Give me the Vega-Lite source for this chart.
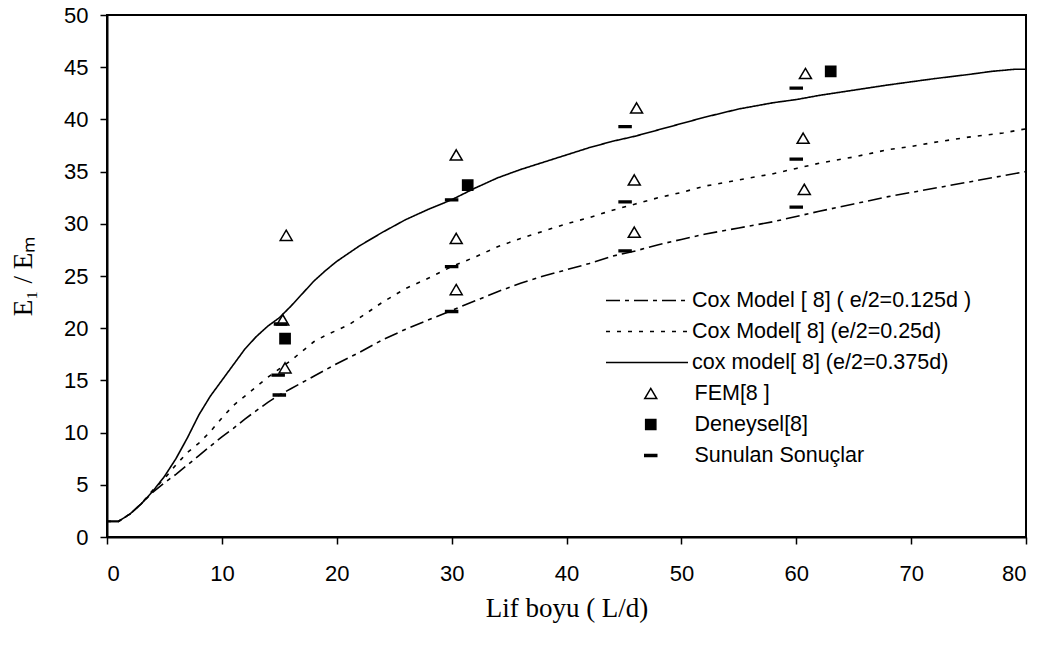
{
  "$schema": "https://vega.github.io/schema/vega-lite/v6.json",
  "width": 919,
  "height": 522,
  "autosize": {"type": "none"},
  "padding": {"left": 107, "top": 15, "right": 20, "bottom": 109},
  "background": "white",
  "config": {
    "view": {"stroke": "black", "strokeWidth": 2},
    "axis": {
      "grid": false,
      "domainColor": "black",
      "domainWidth": 2,
      "tickColor": "black",
      "tickWidth": 1.5,
      "tickSize": 7,
      "labelColor": "black",
      "labelFont": "Liberation Sans",
      "labelFontSize": 22,
      "titleColor": "black",
      "titleFont": "Liberation Serif",
      "titleFontWeight": "normal",
      "titleFontSize": 27
    },
    "legend": {
      "labelFont": "Liberation Sans",
      "labelFontSize": 21.5,
      "labelColor": "black",
      "labelLimit": 0,
      "padding": 0,
      "rowPadding": 0,
      "clipHeight": 31
    }
  },
  "datasets": {
    "curves": [
      {"x": 0, "y": 1.5, "s": "Cox Model [ 8] ( e/2=0.125d )"},
      {"x": 1, "y": 1.5, "s": "Cox Model [ 8] ( e/2=0.125d )"},
      {"x": 2, "y": 2.2, "s": "Cox Model [ 8] ( e/2=0.125d )"},
      {"x": 3, "y": 3.2, "s": "Cox Model [ 8] ( e/2=0.125d )"},
      {"x": 4, "y": 4.3, "s": "Cox Model [ 8] ( e/2=0.125d )"},
      {"x": 5, "y": 5.2, "s": "Cox Model [ 8] ( e/2=0.125d )"},
      {"x": 6, "y": 6.0, "s": "Cox Model [ 8] ( e/2=0.125d )"},
      {"x": 7, "y": 6.9, "s": "Cox Model [ 8] ( e/2=0.125d )"},
      {"x": 8, "y": 7.8, "s": "Cox Model [ 8] ( e/2=0.125d )"},
      {"x": 9, "y": 8.7, "s": "Cox Model [ 8] ( e/2=0.125d )"},
      {"x": 10, "y": 9.6, "s": "Cox Model [ 8] ( e/2=0.125d )"},
      {"x": 11, "y": 10.4, "s": "Cox Model [ 8] ( e/2=0.125d )"},
      {"x": 12, "y": 11.3, "s": "Cox Model [ 8] ( e/2=0.125d )"},
      {"x": 13, "y": 12.1, "s": "Cox Model [ 8] ( e/2=0.125d )"},
      {"x": 14, "y": 12.9, "s": "Cox Model [ 8] ( e/2=0.125d )"},
      {"x": 15, "y": 13.6, "s": "Cox Model [ 8] ( e/2=0.125d )"},
      {"x": 16, "y": 14.2, "s": "Cox Model [ 8] ( e/2=0.125d )"},
      {"x": 17, "y": 14.8, "s": "Cox Model [ 8] ( e/2=0.125d )"},
      {"x": 18, "y": 15.4, "s": "Cox Model [ 8] ( e/2=0.125d )"},
      {"x": 19, "y": 16.0, "s": "Cox Model [ 8] ( e/2=0.125d )"},
      {"x": 20, "y": 16.6, "s": "Cox Model [ 8] ( e/2=0.125d )"},
      {"x": 22, "y": 17.7, "s": "Cox Model [ 8] ( e/2=0.125d )"},
      {"x": 24, "y": 18.9, "s": "Cox Model [ 8] ( e/2=0.125d )"},
      {"x": 26, "y": 19.9, "s": "Cox Model [ 8] ( e/2=0.125d )"},
      {"x": 28, "y": 20.8, "s": "Cox Model [ 8] ( e/2=0.125d )"},
      {"x": 30, "y": 21.7, "s": "Cox Model [ 8] ( e/2=0.125d )"},
      {"x": 32, "y": 22.6, "s": "Cox Model [ 8] ( e/2=0.125d )"},
      {"x": 34, "y": 23.5, "s": "Cox Model [ 8] ( e/2=0.125d )"},
      {"x": 36, "y": 24.3, "s": "Cox Model [ 8] ( e/2=0.125d )"},
      {"x": 38, "y": 25.0, "s": "Cox Model [ 8] ( e/2=0.125d )"},
      {"x": 40, "y": 25.6, "s": "Cox Model [ 8] ( e/2=0.125d )"},
      {"x": 42, "y": 26.2, "s": "Cox Model [ 8] ( e/2=0.125d )"},
      {"x": 44, "y": 26.9, "s": "Cox Model [ 8] ( e/2=0.125d )"},
      {"x": 46, "y": 27.4, "s": "Cox Model [ 8] ( e/2=0.125d )"},
      {"x": 48, "y": 28.0, "s": "Cox Model [ 8] ( e/2=0.125d )"},
      {"x": 50, "y": 28.5, "s": "Cox Model [ 8] ( e/2=0.125d )"},
      {"x": 52, "y": 29.0, "s": "Cox Model [ 8] ( e/2=0.125d )"},
      {"x": 55, "y": 29.6, "s": "Cox Model [ 8] ( e/2=0.125d )"},
      {"x": 58, "y": 30.2, "s": "Cox Model [ 8] ( e/2=0.125d )"},
      {"x": 60, "y": 30.7, "s": "Cox Model [ 8] ( e/2=0.125d )"},
      {"x": 62, "y": 31.2, "s": "Cox Model [ 8] ( e/2=0.125d )"},
      {"x": 65, "y": 31.9, "s": "Cox Model [ 8] ( e/2=0.125d )"},
      {"x": 68, "y": 32.6, "s": "Cox Model [ 8] ( e/2=0.125d )"},
      {"x": 70, "y": 33.0, "s": "Cox Model [ 8] ( e/2=0.125d )"},
      {"x": 72, "y": 33.4, "s": "Cox Model [ 8] ( e/2=0.125d )"},
      {"x": 75, "y": 34.0, "s": "Cox Model [ 8] ( e/2=0.125d )"},
      {"x": 78, "y": 34.6, "s": "Cox Model [ 8] ( e/2=0.125d )"},
      {"x": 80, "y": 35.0, "s": "Cox Model [ 8] ( e/2=0.125d )"},
      {"x": 0, "y": 1.5, "s": "Cox Model[ 8] (e/2=0.25d)"},
      {"x": 1, "y": 1.5, "s": "Cox Model[ 8] (e/2=0.25d)"},
      {"x": 2, "y": 2.2, "s": "Cox Model[ 8] (e/2=0.25d)"},
      {"x": 3, "y": 3.2, "s": "Cox Model[ 8] (e/2=0.25d)"},
      {"x": 4, "y": 4.5, "s": "Cox Model[ 8] (e/2=0.25d)"},
      {"x": 5, "y": 5.6, "s": "Cox Model[ 8] (e/2=0.25d)"},
      {"x": 6, "y": 6.9, "s": "Cox Model[ 8] (e/2=0.25d)"},
      {"x": 7, "y": 8.1, "s": "Cox Model[ 8] (e/2=0.25d)"},
      {"x": 8, "y": 9.0, "s": "Cox Model[ 8] (e/2=0.25d)"},
      {"x": 9, "y": 10.1, "s": "Cox Model[ 8] (e/2=0.25d)"},
      {"x": 10, "y": 11.4, "s": "Cox Model[ 8] (e/2=0.25d)"},
      {"x": 11, "y": 12.6, "s": "Cox Model[ 8] (e/2=0.25d)"},
      {"x": 12, "y": 13.5, "s": "Cox Model[ 8] (e/2=0.25d)"},
      {"x": 13, "y": 14.4, "s": "Cox Model[ 8] (e/2=0.25d)"},
      {"x": 14, "y": 15.3, "s": "Cox Model[ 8] (e/2=0.25d)"},
      {"x": 15, "y": 16.1, "s": "Cox Model[ 8] (e/2=0.25d)"},
      {"x": 16, "y": 16.9, "s": "Cox Model[ 8] (e/2=0.25d)"},
      {"x": 17, "y": 17.8, "s": "Cox Model[ 8] (e/2=0.25d)"},
      {"x": 18, "y": 18.7, "s": "Cox Model[ 8] (e/2=0.25d)"},
      {"x": 19, "y": 19.3, "s": "Cox Model[ 8] (e/2=0.25d)"},
      {"x": 20, "y": 19.8, "s": "Cox Model[ 8] (e/2=0.25d)"},
      {"x": 21, "y": 20.3, "s": "Cox Model[ 8] (e/2=0.25d)"},
      {"x": 22, "y": 21.0, "s": "Cox Model[ 8] (e/2=0.25d)"},
      {"x": 24, "y": 22.5, "s": "Cox Model[ 8] (e/2=0.25d)"},
      {"x": 26, "y": 23.8, "s": "Cox Model[ 8] (e/2=0.25d)"},
      {"x": 28, "y": 24.8, "s": "Cox Model[ 8] (e/2=0.25d)"},
      {"x": 30, "y": 25.9, "s": "Cox Model[ 8] (e/2=0.25d)"},
      {"x": 32, "y": 26.8, "s": "Cox Model[ 8] (e/2=0.25d)"},
      {"x": 34, "y": 27.8, "s": "Cox Model[ 8] (e/2=0.25d)"},
      {"x": 36, "y": 28.6, "s": "Cox Model[ 8] (e/2=0.25d)"},
      {"x": 38, "y": 29.3, "s": "Cox Model[ 8] (e/2=0.25d)"},
      {"x": 40, "y": 30.0, "s": "Cox Model[ 8] (e/2=0.25d)"},
      {"x": 42, "y": 30.6, "s": "Cox Model[ 8] (e/2=0.25d)"},
      {"x": 44, "y": 31.3, "s": "Cox Model[ 8] (e/2=0.25d)"},
      {"x": 46, "y": 31.9, "s": "Cox Model[ 8] (e/2=0.25d)"},
      {"x": 48, "y": 32.5, "s": "Cox Model[ 8] (e/2=0.25d)"},
      {"x": 50, "y": 33.0, "s": "Cox Model[ 8] (e/2=0.25d)"},
      {"x": 52, "y": 33.6, "s": "Cox Model[ 8] (e/2=0.25d)"},
      {"x": 55, "y": 34.2, "s": "Cox Model[ 8] (e/2=0.25d)"},
      {"x": 58, "y": 34.8, "s": "Cox Model[ 8] (e/2=0.25d)"},
      {"x": 60, "y": 35.3, "s": "Cox Model[ 8] (e/2=0.25d)"},
      {"x": 62, "y": 35.8, "s": "Cox Model[ 8] (e/2=0.25d)"},
      {"x": 65, "y": 36.4, "s": "Cox Model[ 8] (e/2=0.25d)"},
      {"x": 68, "y": 37.1, "s": "Cox Model[ 8] (e/2=0.25d)"},
      {"x": 70, "y": 37.4, "s": "Cox Model[ 8] (e/2=0.25d)"},
      {"x": 72, "y": 37.8, "s": "Cox Model[ 8] (e/2=0.25d)"},
      {"x": 75, "y": 38.3, "s": "Cox Model[ 8] (e/2=0.25d)"},
      {"x": 78, "y": 38.7, "s": "Cox Model[ 8] (e/2=0.25d)"},
      {"x": 80, "y": 39.1, "s": "Cox Model[ 8] (e/2=0.25d)"},
      {"x": 0, "y": 1.5, "s": "cox model[ 8] (e/2=0.375d)"},
      {"x": 1, "y": 1.5, "s": "cox model[ 8] (e/2=0.375d)"},
      {"x": 2, "y": 2.2, "s": "cox model[ 8] (e/2=0.375d)"},
      {"x": 3, "y": 3.2, "s": "cox model[ 8] (e/2=0.375d)"},
      {"x": 4, "y": 4.4, "s": "cox model[ 8] (e/2=0.375d)"},
      {"x": 5, "y": 5.8, "s": "cox model[ 8] (e/2=0.375d)"},
      {"x": 6, "y": 7.5, "s": "cox model[ 8] (e/2=0.375d)"},
      {"x": 7, "y": 9.5, "s": "cox model[ 8] (e/2=0.375d)"},
      {"x": 8, "y": 11.7, "s": "cox model[ 8] (e/2=0.375d)"},
      {"x": 9, "y": 13.5, "s": "cox model[ 8] (e/2=0.375d)"},
      {"x": 10, "y": 15.0, "s": "cox model[ 8] (e/2=0.375d)"},
      {"x": 11, "y": 16.5, "s": "cox model[ 8] (e/2=0.375d)"},
      {"x": 12, "y": 18.0, "s": "cox model[ 8] (e/2=0.375d)"},
      {"x": 13, "y": 19.2, "s": "cox model[ 8] (e/2=0.375d)"},
      {"x": 14, "y": 20.2, "s": "cox model[ 8] (e/2=0.375d)"},
      {"x": 15, "y": 21.0, "s": "cox model[ 8] (e/2=0.375d)"},
      {"x": 16, "y": 22.1, "s": "cox model[ 8] (e/2=0.375d)"},
      {"x": 17, "y": 23.3, "s": "cox model[ 8] (e/2=0.375d)"},
      {"x": 18, "y": 24.5, "s": "cox model[ 8] (e/2=0.375d)"},
      {"x": 19, "y": 25.5, "s": "cox model[ 8] (e/2=0.375d)"},
      {"x": 20, "y": 26.4, "s": "cox model[ 8] (e/2=0.375d)"},
      {"x": 22, "y": 27.9, "s": "cox model[ 8] (e/2=0.375d)"},
      {"x": 24, "y": 29.2, "s": "cox model[ 8] (e/2=0.375d)"},
      {"x": 26, "y": 30.4, "s": "cox model[ 8] (e/2=0.375d)"},
      {"x": 28, "y": 31.4, "s": "cox model[ 8] (e/2=0.375d)"},
      {"x": 30, "y": 32.3, "s": "cox model[ 8] (e/2=0.375d)"},
      {"x": 32, "y": 33.4, "s": "cox model[ 8] (e/2=0.375d)"},
      {"x": 34, "y": 34.4, "s": "cox model[ 8] (e/2=0.375d)"},
      {"x": 36, "y": 35.2, "s": "cox model[ 8] (e/2=0.375d)"},
      {"x": 38, "y": 35.9, "s": "cox model[ 8] (e/2=0.375d)"},
      {"x": 40, "y": 36.6, "s": "cox model[ 8] (e/2=0.375d)"},
      {"x": 42, "y": 37.3, "s": "cox model[ 8] (e/2=0.375d)"},
      {"x": 44, "y": 37.9, "s": "cox model[ 8] (e/2=0.375d)"},
      {"x": 46, "y": 38.4, "s": "cox model[ 8] (e/2=0.375d)"},
      {"x": 48, "y": 39.0, "s": "cox model[ 8] (e/2=0.375d)"},
      {"x": 50, "y": 39.6, "s": "cox model[ 8] (e/2=0.375d)"},
      {"x": 52, "y": 40.2, "s": "cox model[ 8] (e/2=0.375d)"},
      {"x": 55, "y": 41.0, "s": "cox model[ 8] (e/2=0.375d)"},
      {"x": 58, "y": 41.6, "s": "cox model[ 8] (e/2=0.375d)"},
      {"x": 60, "y": 41.9, "s": "cox model[ 8] (e/2=0.375d)"},
      {"x": 62, "y": 42.3, "s": "cox model[ 8] (e/2=0.375d)"},
      {"x": 65, "y": 42.8, "s": "cox model[ 8] (e/2=0.375d)"},
      {"x": 68, "y": 43.3, "s": "cox model[ 8] (e/2=0.375d)"},
      {"x": 70, "y": 43.6, "s": "cox model[ 8] (e/2=0.375d)"},
      {"x": 72, "y": 43.9, "s": "cox model[ 8] (e/2=0.375d)"},
      {"x": 75, "y": 44.3, "s": "cox model[ 8] (e/2=0.375d)"},
      {"x": 77, "y": 44.6, "s": "cox model[ 8] (e/2=0.375d)"},
      {"x": 79, "y": 44.8, "s": "cox model[ 8] (e/2=0.375d)"},
      {"x": 80, "y": 44.8, "s": "cox model[ 8] (e/2=0.375d)"}
    ],
    "points": [
      {"x": 15.6, "y": 28.9, "t": "FEM[8 ]"},
      {"x": 15.3, "y": 20.8, "t": "FEM[8 ]"},
      {"x": 15.5, "y": 16.2, "t": "FEM[8 ]"},
      {"x": 30.4, "y": 36.6, "t": "FEM[8 ]"},
      {"x": 30.4, "y": 28.6, "t": "FEM[8 ]"},
      {"x": 30.4, "y": 23.7, "t": "FEM[8 ]"},
      {"x": 46.1, "y": 41.1, "t": "FEM[8 ]"},
      {"x": 45.9, "y": 34.2, "t": "FEM[8 ]"},
      {"x": 45.9, "y": 29.2, "t": "FEM[8 ]"},
      {"x": 60.8, "y": 44.4, "t": "FEM[8 ]"},
      {"x": 60.6, "y": 38.2, "t": "FEM[8 ]"},
      {"x": 60.7, "y": 33.3, "t": "FEM[8 ]"},
      {"x": 15.5, "y": 19.0, "t": "Deneysel[8]"},
      {"x": 31.4, "y": 33.7, "t": "Deneysel[8]"},
      {"x": 63.0, "y": 44.6, "t": "Deneysel[8]"},
      {"x": 15.1, "y": 20.4, "t": "Sunulan Sonuçlar"},
      {"x": 14.9, "y": 15.5, "t": "Sunulan Sonuçlar"},
      {"x": 15.0, "y": 13.6, "t": "Sunulan Sonuçlar"},
      {"x": 30.0, "y": 32.3, "t": "Sunulan Sonuçlar"},
      {"x": 30.0, "y": 25.9, "t": "Sunulan Sonuçlar"},
      {"x": 30.0, "y": 21.6, "t": "Sunulan Sonuçlar"},
      {"x": 45.1, "y": 39.3, "t": "Sunulan Sonuçlar"},
      {"x": 45.1, "y": 32.1, "t": "Sunulan Sonuçlar"},
      {"x": 45.1, "y": 27.4, "t": "Sunulan Sonuçlar"},
      {"x": 60.0, "y": 43.0, "t": "Sunulan Sonuçlar"},
      {"x": 60.0, "y": 36.2, "t": "Sunulan Sonuçlar"},
      {"x": 60.0, "y": 31.6, "t": "Sunulan Sonuçlar"}
    ]
  },
  "layer": [
    {
      "data": {"name": "curves"},
      "mark": {"type": "line", "color": "black", "strokeWidth": 1.6, "clip": true},
      "encoding": {
        "x": {
          "field": "x", "type": "quantitative",
          "scale": {"domain": [0, 80], "nice": false, "zero": false},
          "axis": {"values": [0, 10, 20, 30, 40, 50, 60, 70, 80], "title": "Lif boyu ( L/d)", "labelPadding": 19, "titlePadding": 11}
        },
        "y": {
          "field": "y", "type": "quantitative",
          "scale": {"domain": [0, 50], "nice": false},
          "axis": {"values": [0, 5, 10, 15, 20, 25, 30, 35, 40, 45, 50], "title": "E₁ / Eₘ", "labelPadding": 12, "titlePadding": 26}
        },
        "strokeDash": {
          "field": "s", "type": "nominal",
          "scale": {
            "domain": ["Cox Model [ 8] ( e/2=0.125d )", "Cox Model[ 8] (e/2=0.25d)", "cox model[ 8] (e/2=0.375d)"],
            "range": [[14, 5, 4, 5], [4, 7], [1, 0]]
          },
          "legend": {
            "title": null,
            "orient": "none",
            "legendX": 498,
            "legendY": 270,
            "symbolType": "stroke",
            "symbolSize": 6724,
            "symbolStrokeWidth": 1.6,
            "symbolStrokeColor": "black",
            "labelOffset": 3
          }
        }
      }
    },
    {
      "data": {"name": "points"},
      "mark": {"type": "point", "filled": true, "stroke": "black", "strokeWidth": 1.5, "size": 144, "opacity": 1},
      "encoding": {
        "x": {"field": "x", "type": "quantitative"},
        "y": {"field": "y", "type": "quantitative"},
        "shape": {
          "field": "t", "type": "nominal",
          "scale": {
            "domain": ["FEM[8 ]", "Deneysel[8]", "Sunulan Sonuçlar"],
            "range": ["M0,-0.85L1,0.85L-1,0.85Z", "M-0.85,-0.85H0.85V0.85H-0.85Z", "M-1,-0.15H1V0.15H-1Z"]
          },
          "legend": {
            "title": null,
            "orient": "none",
            "legendX": 533,
            "legendY": 363,
            "symbolSize": 144,
            "symbolStrokeWidth": 1.5,
            "symbolStrokeColor": "black",
            "symbolOpacity": 1,
            "labelOffset": 33,
            "encode": {"symbols": {"update": {"stroke": {"value": "black"}, "strokeWidth": {"value": 1.5}}}}
          }
        },
        "fill": {
          "field": "t", "type": "nominal",
          "scale": {
            "domain": ["FEM[8 ]", "Deneysel[8]", "Sunulan Sonuçlar"],
            "range": ["white", "black", "black"]
          },
          "legend": {
            "title": null,
            "orient": "none",
            "legendX": 533,
            "legendY": 363,
            "symbolSize": 144,
            "symbolStrokeWidth": 1.5,
            "symbolStrokeColor": "black",
            "symbolOpacity": 1,
            "labelOffset": 33,
            "encode": {"symbols": {"update": {"stroke": {"value": "black"}, "strokeWidth": {"value": 1.5}}}}
          }
        }
      }
    }
  ]
}
